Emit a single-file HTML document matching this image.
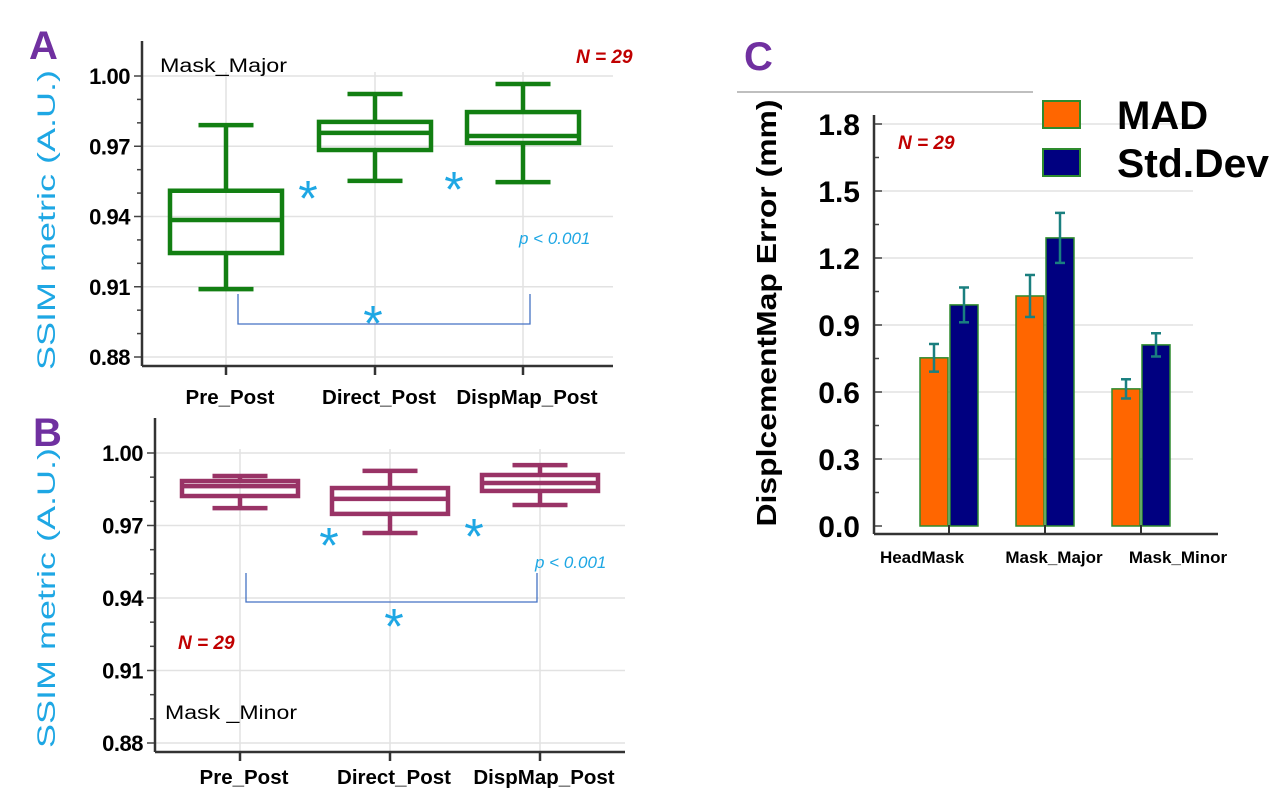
<!DOCTYPE html>
<html><head><meta charset="utf-8">
<style>
html,body{margin:0;padding:0;background:#fff;}
svg{display:block;font-family:"Liberation Sans",sans-serif;}
</style></head>
<body>
<svg id="fig" width="1277" height="806" viewBox="0 0 1277 806">
<g id="gA"></g>
<g id="gB"></g>
<g id="gC"></g>
</svg>
<script>
// ---------- data ----------
const boxCategories = ["Pre_Post","Direct_Post","DispMap_Post"];
const yTicksSSIM = [1.00,0.97,0.94,0.91,0.88];
const majorWhiskTop = [0.979,0.9923,0.9966];
const majorQ3 = [0.951,0.9804,0.9846];
const majorMedian = [0.9385,0.9757,0.9744];
const majorQ1 = [0.9244,0.9684,0.9714];
const majorWhiskBot = [0.909,0.9552,0.9547];
const minorWhiskTop = [0.9905,0.9926,0.995];
const minorQ3 = [0.9884,0.9855,0.9909];
const minorMedian = [0.9863,0.981,0.9876];
const minorQ1 = [0.9822,0.9748,0.9843];
const minorWhiskBot = [0.9772,0.9669,0.9785];

const barCategories = ["HeadMask","Mask_Major","Mask_Minor"];
const madValues = [0.753,1.03,0.614];
const madErr = [0.062,0.094,0.043];
const sdValues = [0.99,1.29,0.811];
const sdErr = [0.078,0.112,0.052];
const yTicksC = [0.0,0.3,0.6,0.9,1.2,1.5,1.8];
const yTickLabelsC = ["0.0","0.3","0.6","0.9","1.2","1.5","1.8"];

const NS="http://www.w3.org/2000/svg";
function mk(parent,tag,attrs,text){
  const e=document.createElementNS(NS,tag);
  for(const k in attrs) e.setAttribute(k,attrs[k]);
  if(text!==undefined) e.textContent=text;
  parent.appendChild(e);
  return e;
}

function boxPanel(g, cfg, top, q3, med, q1, bot){
  const y = v => cfg.y0 + (cfg.vmax - v)/(cfg.vmax-cfg.vmin)*(cfg.y1-cfg.y0);
  const x = i => cfg.cx[i];
  yTicksSSIM.forEach(t=>{
    const l=mk(g,'line',{x1:cfg.ax,x2:cfg.axEnd,y1:y(t),y2:y(t),stroke:'#e2e2e2','stroke-width':1.5});
    
    
  });
  boxCategories.forEach((c,i)=>{
    const l=mk(g,'line',{x1:x(i),x2:x(i),y1:cfg.y0-4,y2:cfg.axisY,stroke:'#e2e2e2','stroke-width':1.5});
    
    
  });
  for(let v=cfg.vmin; v<=cfg.vmax+1e-9; v+=0.01){
    const major = yTicksSSIM.some(t=>Math.abs(t-v)<1e-6);
    const l=mk(g,'line',{x1:cfg.ax-(major?8:5),x2:cfg.ax,y1:y(v),y2:y(v),stroke:'#444','stroke-width':1.5});
    
    
  }
  yTicksSSIM.forEach(t=>{
    const tx=mk(g,'text',{x:cfg.ax-12,y:y(t)+8,'text-anchor':'end','font-size':22,'font-weight':'bold',fill:'#000','letter-spacing':'-0.5'},t.toFixed(2));
    
    
  });
  const a1=mk(g,'line',{x1:cfg.ax,x2:cfg.ax,y1:cfg.y0-35,y2:cfg.axisY,stroke:'#333','stroke-width':2.5});
  
  
  const a2=mk(g,'line',{x1:cfg.ax,x2:cfg.axEnd,y1:cfg.axisY,y2:cfg.axisY,stroke:'#333','stroke-width':2.5});
  
  
  boxCategories.forEach((c,i)=>{
    const t=mk(g,'line',{x1:x(i),x2:x(i),y1:cfg.axisY,y2:cfg.axisY+9,stroke:'#333','stroke-width':2.5});
    
    
    const lb=mk(g,'text',{x:x(i)+4,y:cfg.axisY+cfg.labOff,'text-anchor':'middle','font-size':20.5,'font-weight':'bold',fill:'#000'},c);
    
    
  });
  boxCategories.forEach((c,i)=>{
    const bg=mk(g,'g',{});
    
    
    const s={stroke:cfg.color,'stroke-width':cfg.sw,fill:'none'};
    mk(bg,'line',Object.assign({x1:x(i),x2:x(i),y1:y(top[i]),y2:y(q3[i])},s));
    mk(bg,'line',Object.assign({x1:x(i),x2:x(i),y1:y(q1[i]),y2:y(bot[i])},s));
    mk(bg,'line',Object.assign({x1:x(i)-cfg.cap/2,x2:x(i)+cfg.cap/2,y1:y(top[i]),y2:y(top[i])},s));
    mk(bg,'line',Object.assign({x1:x(i)-cfg.cap/2,x2:x(i)+cfg.cap/2,y1:y(bot[i]),y2:y(bot[i])},s));
    mk(bg,'rect',Object.assign({x:x(i)-cfg.bw/2,y:y(q3[i]),width:cfg.bw,height:y(q1[i])-y(q3[i])},s));
    mk(bg,'line',Object.assign({x1:x(i)-cfg.bw/2,x2:x(i)+cfg.bw/2,y1:y(med[i]),y2:y(med[i])},s));
  });
  return y;
}

function star(g,x,y,size){
  const t=mk(g,'text',{x:x,y:y+size*0.55,'text-anchor':'middle','font-size':size,fill:'#1ea7e4','font-weight':'normal'},'*');
  
  
}
function bracket(g,x1,x2,yt,yb){
  const p=mk(g,'path',{d:`M${x1},${yt} L${x1},${yb} L${x2},${yb} L${x2},${yt}`,fill:'none',stroke:'#4472c4','stroke-width':1.3});
  
  
}
function txt(g,name,attrs,s){
  const t=mk(g,'text',attrs,s);
  
  
  return t;
}

// ---------- Panel A ----------
const gA=document.getElementById('gA');
boxPanel(gA,{ax:142,axEnd:613,axisY:366,y0:76,y1:357,vmax:1.00,vmin:0.88,cx:[226,375,523],bw:112,cap:55,sw:4.5,color:'#127f12',labOff:38},
  majorWhiskTop,majorQ3,majorMedian,majorQ1,majorWhiskBot);
txt(gA,'panel-label-a',{x:29,y:59,'font-size':40,'font-weight':'bold',fill:'#7030a0'},'A');
txt(gA,'y-axis-title',{x:0,y:0,transform:'translate(55,220) rotate(-90)','text-anchor':'middle','font-size':25,fill:'#1ea7e4',textLength:300,lengthAdjust:'spacingAndGlyphs'},'SSIM metric (A.U.)');
txt(gA,'subset-label',{x:160,y:72,'font-size':19,fill:'#000',textLength:127,lengthAdjust:'spacingAndGlyphs'},'Mask_Major');
txt(gA,'n-label',{x:576,y:63,'font-size':19,'font-weight':'bold','font-style':'italic',fill:'#c00000'},'N = 29');
txt(gA,'p-value',{x:519,y:244,'font-size':17,'font-style':'italic',fill:'#1ea7e4'},'p < 0.001');
star(gA,308,188,50); star(gA,454,179,50); star(gA,373,313,50);
bracket(gA,238,530,294,324);

// ---------- Panel B ----------
const gB=document.getElementById('gB');
boxPanel(gB,{ax:155,axEnd:625,axisY:752,y0:453,y1:743,vmax:1.00,vmin:0.88,cx:[240,390,540],bw:116,cap:55,sw:4.5,color:'#993366',labOff:32},
  minorWhiskTop,minorQ3,minorMedian,minorQ1,minorWhiskBot);
txt(gB,'panel-label-b',{x:33,y:446,'font-size':40,'font-weight':'bold',fill:'#7030a0'},'B');
txt(gB,'y-axis-title',{x:0,y:0,transform:'translate(55,598) rotate(-90)','text-anchor':'middle','font-size':25,fill:'#1ea7e4',textLength:300,lengthAdjust:'spacingAndGlyphs'},'SSIM metric (A.U.)');
txt(gB,'subset-label',{x:165,y:719,'font-size':19,fill:'#000',textLength:132,lengthAdjust:'spacingAndGlyphs'},'Mask _Minor');
txt(gB,'n-label',{x:178,y:649,'font-size':19,'font-weight':'bold','font-style':'italic',fill:'#c00000'},'N = 29');
txt(gB,'p-value',{x:535,y:568,'font-size':17,'font-style':'italic',fill:'#1ea7e4'},'p < 0.001');
star(gB,329,535,50); star(gB,474,526,50); star(gB,394,616,50);
bracket(gB,246,537,573,602);

// ---------- Panel C ----------
const gC=document.getElementById('gC');
const cAx=874, cAxEnd=1218, cAxisY=534, cY0=526, cY18=124, cvmax=1.8;
const cy = v => cY0 - v/cvmax*(cY0-cY18);
const ccx = i => 949 + i*96;
txt(gC,'panel-label-c',{x:744,y:70,'font-size':40,'font-weight':'bold',fill:'#7030a0'},'C');
const topLine=mk(gC,'line',{x1:737,x2:1033,y1:92,y2:92,stroke:'#999','stroke-width':1.2});


yTicksC.forEach((t,i)=>{
  if(i>0){
    const g=mk(gC,'line',{x1:cAx,x2:cAxEnd-25,y1:cy(t),y2:cy(t),stroke:'#e2e2e2','stroke-width':1.5});
    
    
  }
  const tk=mk(gC,'line',{x1:cAx,x2:cAx+8,y1:cy(t),y2:cy(t),stroke:'#444','stroke-width':1.5});
  
  
  if(i<yTicksC.length-1){
    const mt=mk(gC,'line',{x1:cAx,x2:cAx+5,y1:cy(t+0.15),y2:cy(t+0.15),stroke:'#444','stroke-width':1.5});
    
    
  }
  txt(gC,'y-tick-label',{x:860,y:cy(t)+11,'text-anchor':'end','font-size':30,'font-weight':'bold',fill:'#000'},yTickLabelsC[i]);
});
const cya=mk(gC,'line',{x1:cAx,x2:cAx,y1:115,y2:cAxisY,stroke:'#333','stroke-width':2.5});


const cxa=mk(gC,'line',{x1:cAx,x2:cAxEnd,y1:cAxisY,y2:cAxisY,stroke:'#333','stroke-width':2.5});


txt(gC,'y-axis-title',{x:0,y:0,transform:'translate(776,313) rotate(-90)','text-anchor':'middle','font-size':28,'font-weight':'bold',fill:'#000',textLength:427,lengthAdjust:'spacingAndGlyphs'},'DisplcementMap Error (mm)');
txt(gC,'n-label',{x:898,y:149,'font-size':19,'font-weight':'bold','font-style':'italic',fill:'#c00000'},'N = 29');
const bw=28;
function errBar(x,v,e){
  const eg=mk(gC,'g',{stroke:'#1a7f7f','stroke-width':2.5});
  
  
  mk(eg,'line',{x1:x,x2:x,y1:cy(v+e),y2:cy(v-e)});
  mk(eg,'line',{x1:x-5,x2:x+5,y1:cy(v+e),y2:cy(v+e)});
  mk(eg,'line',{x1:x-5,x2:x+5,y1:cy(v-e),y2:cy(v-e)});
}
barCategories.forEach((c,i)=>{
  const cx=ccx(i);
  const b1=mk(gC,'rect',{x:cx-1-bw,y:cy(madValues[i]),width:bw,height:cy(0)-cy(madValues[i]),fill:'#ff6600',stroke:'#2e8b2e','stroke-width':1.5});
  
  
  const b2=mk(gC,'rect',{x:cx+1,y:cy(sdValues[i]),width:bw,height:cy(0)-cy(sdValues[i]),fill:'#000080',stroke:'#2e8b2e','stroke-width':1.5});
  
  
  errBar(cx-1-bw/2,madValues[i],madErr[i]);
  errBar(cx+1+bw/2,sdValues[i],sdErr[i]);
  const t=mk(gC,'line',{x1:cx,x2:cx,y1:cAxisY,y2:cAxisY-9,stroke:'#333','stroke-width':2});
  
  
});
txt(gC,'x-tick-label',{x:922,y:563,'text-anchor':'middle','font-size':17,'font-weight':'bold',fill:'#000'},barCategories[0]);
txt(gC,'x-tick-label',{x:1054,y:563,'text-anchor':'middle','font-size':17,'font-weight':'bold',fill:'#000'},barCategories[1]);
txt(gC,'x-tick-label',{x:1178,y:563,'text-anchor':'middle','font-size':17,'font-weight':'bold',fill:'#000'},barCategories[2]);
const lg=mk(gC,'g',{});


const l1=mk(lg,'rect',{x:1043,y:101,width:37,height:27,fill:'#ff6600',stroke:'#2e8b2e','stroke-width':2});


const l2=mk(lg,'rect',{x:1043,y:149,width:37,height:27,fill:'#000080',stroke:'#2e8b2e','stroke-width':2});


txt(lg,'legend-entry-mad',{x:1117,y:129,'font-size':40,'font-weight':'bold',fill:'#000'},'MAD');
txt(lg,'legend-entry-stddev',{x:1117,y:177,'font-size':40,'font-weight':'bold',fill:'#000',textLength:152,lengthAdjust:'spacingAndGlyphs'},'Std.Dev');
</script>
</body></html>
